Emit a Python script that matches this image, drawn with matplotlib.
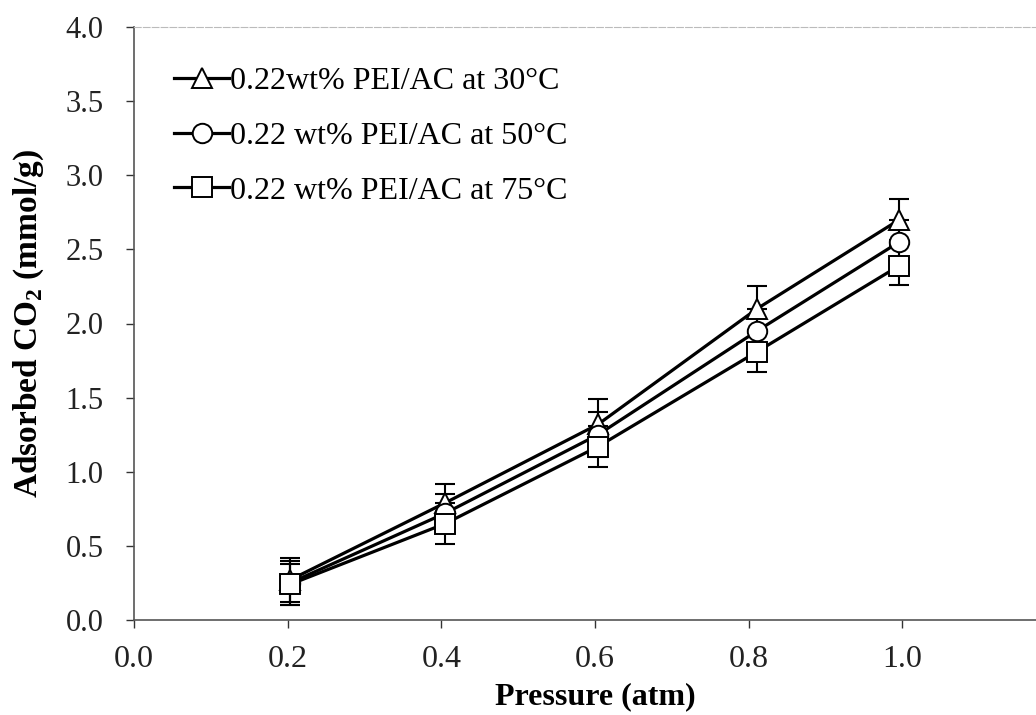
import matplotlib
matplotlib.use("Agg")
import matplotlib.pyplot as plt
import numpy as np

plt.rcParams['font.family'] = ['Liberation Serif', 'DejaVu Serif']
plt.rcParams['mathtext.fontset'] = 'custom'
plt.rcParams['mathtext.rm'] = 'Liberation Serif'
plt.rcParams['mathtext.bf'] = 'Liberation Serif:bold'

# Data
pressure = [0.203, 0.405, 0.604, 0.811, 0.996]
co2_30 = [0.27, 0.79, 1.32, 2.10, 2.70]
co2_50 = [0.25, 0.72, 1.25, 1.95, 2.55]
co2_75 = [0.24, 0.65, 1.17, 1.81, 2.39]
err_30 = [0.15, 0.13, 0.17, 0.15, 0.14]
err_50 = [0.15, 0.13, 0.15, 0.15, 0.15]
err_75 = [0.14, 0.14, 0.14, 0.14, 0.13]

labels = ['0.22wt% PEI/AC at 30°C', '0.22 wt% PEI/AC at 50°C', '0.22 wt% PEI/AC at 75°C']
markers = ['^', 'o', 's']
xticks = [0.0, 0.2, 0.4, 0.6, 0.8, 1.0]
yticks = [0.0, 0.5, 1.0, 1.5, 2.0, 2.5, 3.0, 3.5, 4.0]

fig = plt.figure(figsize=(10.36, 7.15), dpi=100)
ax = fig.add_axes([134 / 1036, 1 - 620 / 715, (1056 - 134) / 1036, (620 - 27) / 715])

for y, e, m, lab in zip([co2_30, co2_50, co2_75], [err_30, err_50, err_75], markers, labels):
    ax.errorbar(pressure, y, yerr=e, fmt='none', ecolor='black',
                capsize=7, capthick=1.5, elinewidth=1.5, zorder=2)
    ax.plot(pressure, y, color='black', lw=2.3, marker=m, markersize=14,
            markerfacecolor='white', markeredgecolor='black', markeredgewidth=1.4,
            label=lab, zorder=3)

ax.set_xlim(0, 1.2)
ax.set_ylim(0, 4.0)
ax.set_xticks(xticks)
ax.set_yticks(yticks)
ax.set_xticklabels(['%.1f' % v for v in xticks])
ax.set_yticklabels(['%.1f' % v for v in yticks])
ax.tick_params(axis='both', direction='out', length=6, width=1, colors='#333333')
ax.tick_params(axis='both', labelcolor='#222222')
ax.tick_params(axis='x', labelsize=23, pad=12)
ax.tick_params(axis='y', labelsize=22, pad=16)

for s in ['left', 'bottom']:
    ax.spines[s].set_color('#555555')
    ax.spines[s].set_linewidth(1.2)
ax.spines['top'].set_color('#bbbbbb')
ax.spines['top'].set_linestyle((0, (6, 2)))
ax.spines['right'].set_visible(False)

ax.set_xlabel('Pressure (atm)', fontsize=23, fontweight='bold', labelpad=6)
ax.set_ylabel(r'Adsorbed CO$_\mathbf{2}$ (mmol/g)', fontsize=24, fontweight='bold', labelpad=14)

ax.legend(loc='upper left', bbox_to_anchor=(0.03, 0.955), frameon=False, fontsize=23,
          handlelength=1.7, handletextpad=0.05, labelspacing=0.8, borderaxespad=0.0)

fig.savefig('out.png', dpi=100)
